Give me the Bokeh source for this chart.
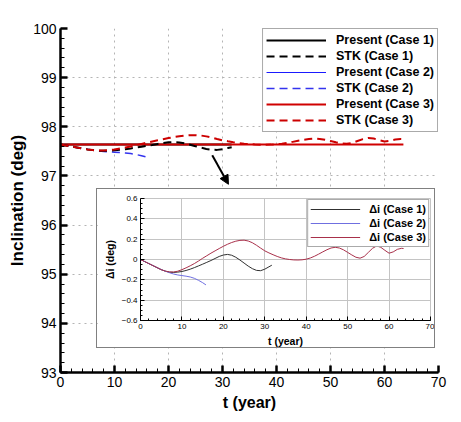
from bokeh.plotting import figure
from bokeh.models import Legend, LegendItem, Arrow, NormalHead, Range1d, FixedTicker
from bokeh.embed import file_html
from bokeh.resources import INLINE

# ---------------- data ----------------
x_ticks = [0, 10, 20, 30, 40, 50, 60, 70]
y_ticks = [93, 94, 95, 96, 97, 98, 99, 100]
inset_y_ticks = [-0.6, -0.4, -0.2, 0, 0.2, 0.4, 0.6]

# Present (constant inclination)
t_present1 = [0, 31.7]
present1 = [97.64, 97.64]
t_present2 = [0, 15.8]
present2 = [97.64, 97.64]
t_present3 = [0, 63.5]
present3 = [97.64, 97.64]

# STK and delta-i, case 1
t1 = [0, 1, 2, 3, 4, 5, 6, 7, 8, 9, 10, 11, 12, 13, 14, 15, 16, 17, 18, 19, 20,
      21, 22, 23, 24, 25, 26, 27, 28, 29, 30, 31, 31.7]
stk1 = [97.64, 97.62, 97.60, 97.58, 97.56, 97.54, 97.525, 97.515, 97.513, 97.516,
        97.522, 97.532, 97.545, 97.56, 97.577, 97.594, 97.612, 97.63, 97.65, 97.67,
        97.684, 97.69, 97.682, 97.662, 97.635, 97.605, 97.575, 97.55, 97.533, 97.53,
        97.545, 97.568, 97.584]
d1 = [0, -0.02, -0.04, -0.06, -0.08, -0.10, -0.115, -0.125, -0.127, -0.124, -0.118,
      -0.108, -0.095, -0.08, -0.063, -0.046, -0.028, -0.01, 0.01, 0.03, 0.044, 0.05,
      0.042, 0.022, -0.005, -0.035, -0.065, -0.09, -0.107, -0.11, -0.095, -0.072, -0.056]

# case 2
t2 = [0, 1, 2, 3, 4, 5, 6, 7, 8, 9, 10, 11, 12, 13, 14, 15, 15.8]
stk2 = [97.64, 97.62, 97.60, 97.58, 97.56, 97.541, 97.525, 97.51, 97.497, 97.488,
        97.482, 97.476, 97.468, 97.455, 97.435, 97.412, 97.39]
d2 = [0, -0.02, -0.04, -0.06, -0.08, -0.099, -0.115, -0.13, -0.143, -0.152, -0.158,
      -0.164, -0.172, -0.185, -0.205, -0.228, -0.25]

# case 3
t3 = [0, 1, 2, 3, 4, 5, 6, 7, 8, 9, 10, 11, 12, 13, 14, 15, 16, 17, 18, 19, 20,
      21, 22, 23, 24, 25, 26, 27, 28, 29, 30, 31, 32, 33, 34, 35, 36, 37, 38, 39, 40,
      41, 42, 43, 44, 45, 46, 47, 48, 49, 50, 51, 52, 53, 54, 55, 56, 57, 58, 59, 60,
      61, 62, 63, 63.5]
stk3 = [97.64, 97.62, 97.60, 97.58, 97.56, 97.54, 97.526, 97.518, 97.517, 97.525,
        97.54, 97.558, 97.578, 97.60, 97.625, 97.652, 97.677, 97.702, 97.725, 97.748,
        97.77, 97.79, 97.807, 97.82, 97.828, 97.83, 97.822, 97.805, 97.78, 97.752,
        97.725, 97.705, 97.687, 97.67, 97.656, 97.646, 97.64, 97.636, 97.635, 97.637,
        97.643, 97.655, 97.672, 97.693, 97.715, 97.736, 97.753, 97.76, 97.753, 97.735,
        97.71, 97.685, 97.662, 97.653, 97.67, 97.71, 97.75, 97.773, 97.76, 97.73,
        97.702, 97.715, 97.74, 97.75, 97.748]
d3 = [0, -0.02, -0.04, -0.06, -0.08, -0.10, -0.114, -0.122, -0.123, -0.115, -0.10,
      -0.082, -0.062, -0.04, -0.015, 0.012, 0.037, 0.062, 0.085, 0.108, 0.13, 0.15,
      0.167, 0.18, 0.188, 0.19, 0.182, 0.165, 0.14, 0.112, 0.085, 0.065, 0.047, 0.03,
      0.016, 0.006, 0.0, -0.004, -0.005, -0.003, 0.003, 0.015, 0.032, 0.053, 0.075,
      0.096, 0.113, 0.12, 0.113, 0.095, 0.07, 0.045, 0.022, 0.013, 0.03, 0.07, 0.11,
      0.133, 0.12, 0.09, 0.062, 0.075, 0.1, 0.11, 0.108]

FONT = "Liberation Sans"

# ---------------- main figure ----------------
p = figure(width=458, height=420,
           x_range=Range1d(0, 70), y_range=Range1d(93, 100),
           output_backend="svg", toolbar_location=None,
           min_border_left=60, min_border_right=20, min_border_top=28,
           min_border_bottom=48, background_fill_color="white",
           border_fill_color="white")
p.outline_line_color = None

p.xaxis.ticker = FixedTicker(ticks=x_ticks, minor_ticks=list(range(0, 71, 2)))
p.yaxis.ticker = FixedTicker(ticks=y_ticks,
                             minor_ticks=[93 + 0.2 * i for i in range(36)])
for ax in (p.xaxis[0], p.yaxis[0]):
    ax.axis_line_width = 2.5
    ax.axis_line_color = "black"
    ax.major_tick_in = 7
    ax.major_tick_out = 0
    ax.minor_tick_in = 4
    ax.minor_tick_out = 0
    ax.major_tick_line_width = 2.5
    ax.minor_tick_line_width = 1
    ax.major_label_text_font = FONT
    ax.major_label_text_font_size = "14px"
    ax.major_label_text_color = "black"
    ax.axis_label_text_font = FONT
    ax.axis_label_text_font_style = "bold"
    ax.axis_label_text_color = "black"
    ax.major_label_standoff = 4
p.xaxis.axis_label = "t (year)"
p.yaxis.axis_label = "Inclination (deg)"
p.xaxis.axis_label_text_font_size = "16px"
p.yaxis.axis_label_text_font_size = "17px"
p.xaxis.axis_label_standoff = 4
p.yaxis.axis_label_standoff = 3

p.grid.grid_line_color = "#b4b4b4"
p.grid.grid_line_dash = "dotted"
p.grid.grid_line_width = 1

r_p1 = p.line(t_present1, present1, line_color="black", line_width=2)
r_p2 = p.line(t_present2, present2, line_color="#1a1aff", line_width=1)
r_p3 = p.line(t_present3, present3, line_color="#d00000", line_width=2)
r_s2 = p.line(t2, stk2, line_color="#3333ee", line_width=1.5, line_dash="8 5")
r_s1 = p.line(t1, stk1, line_color="black", line_width=2, line_dash="8 5")
r_s3 = p.line(t3, stk3, line_color="#cc0000", line_width=2, line_dash="8 5")

legend = Legend(items=[
    LegendItem(label="Present (Case 1)", renderers=[r_p1]),
    LegendItem(label="STK (Case 1)", renderers=[r_s1]),
    LegendItem(label="Present (Case 2)", renderers=[r_p2]),
    LegendItem(label="STK (Case 2)", renderers=[r_s2]),
    LegendItem(label="Present (Case 3)", renderers=[r_p3]),
    LegendItem(label="STK (Case 3)", renderers=[r_s3]),
], location="top_right")
legend.margin = 0
legend.padding = 3
legend.spacing = 0
legend.glyph_width = 60
legend.glyph_height = 16
legend.label_height = 16
legend.label_standoff = 10
legend.label_text_font = FONT
legend.label_text_font_size = "12.5px"
legend.label_text_font_style = "bold"
legend.label_text_color = "black"
legend.border_line_color = "#555555"
legend.border_line_width = 1
legend.background_fill_color = "white"
legend.background_fill_alpha = 1
p.add_layout(legend)

p.add_layout(Arrow(end=NormalHead(size=9, fill_color="black", line_color="black"),
                   x_start=28.1, y_start=97.42, x_end=31.1, y_end=96.83,
                   line_width=2, line_color="black"))

# ---------------- inset figure ----------------
inset = figure(width=339, height=160,
               x_range=Range1d(0, 70), y_range=Range1d(-0.6, 0.6),
               output_backend="svg", toolbar_location=None,
               min_border_left=43, min_border_right=6, min_border_top=9,
               min_border_bottom=26, background_fill_color="white",
               border_fill_color="white")
inset.outline_line_color = "#c4c4c4"
inset.xaxis.ticker = FixedTicker(ticks=x_ticks, minor_ticks=list(range(0, 71, 2)))
inset.yaxis.ticker = FixedTicker(ticks=inset_y_ticks,
                                 minor_ticks=[-0.6 + 0.05 * i for i in range(25)])
for ax in (inset.xaxis[0], inset.yaxis[0]):
    ax.axis_line_width = 1
    ax.axis_line_color = "black"
    ax.major_tick_in = 4
    ax.major_tick_out = 0
    ax.minor_tick_in = 2
    ax.minor_tick_out = 0
    ax.major_label_text_font = FONT
    ax.major_label_text_font_size = "8px"
    ax.major_label_text_color = "black"
    ax.major_label_standoff = 3
    ax.axis_label_text_font = FONT
    ax.axis_label_text_font_size = "10.5px"
    ax.axis_label_text_font_style = "bold"
    ax.axis_label_text_color = "black"
    ax.axis_label_standoff = 3
inset.xaxis.axis_label = "t (year)"
inset.yaxis.axis_label = "Δi (deg)"
inset.grid.grid_line_color = "#c4c4c4"
inset.grid.grid_line_width = 1

ri1 = inset.line(t1, d1, line_color="#303030", line_width=1)
ri2 = inset.line(t2, d2, line_color="#6f6fe0", line_width=1)
ri3 = inset.line(t3, d3, line_color="#a8304a", line_width=1)

ilegend = Legend(items=[
    LegendItem(label="Δi (Case 1)", renderers=[ri1]),
    LegendItem(label="Δi (Case 2)", renderers=[ri2]),
    LegendItem(label="Δi (Case 3)", renderers=[ri3]),
], location="top_right")
ilegend.margin = 1
ilegend.padding = 2
ilegend.spacing = 0
ilegend.glyph_width = 50
ilegend.glyph_height = 14
ilegend.label_height = 14
ilegend.label_standoff = 9
ilegend.label_text_font = FONT
ilegend.label_text_font_size = "11px"
ilegend.label_text_font_style = "bold"
ilegend.label_text_color = "black"
ilegend.border_line_color = "#555555"
ilegend.border_line_width = 1
ilegend.background_fill_color = "white"
ilegend.background_fill_alpha = 1
inset.add_layout(ilegend)

inset.styles = {"position": "absolute", "left": "96px", "top": "188px",
                "border": "1px solid #808080"}

open("out.html", "w").write(file_html([p, inset], INLINE))
